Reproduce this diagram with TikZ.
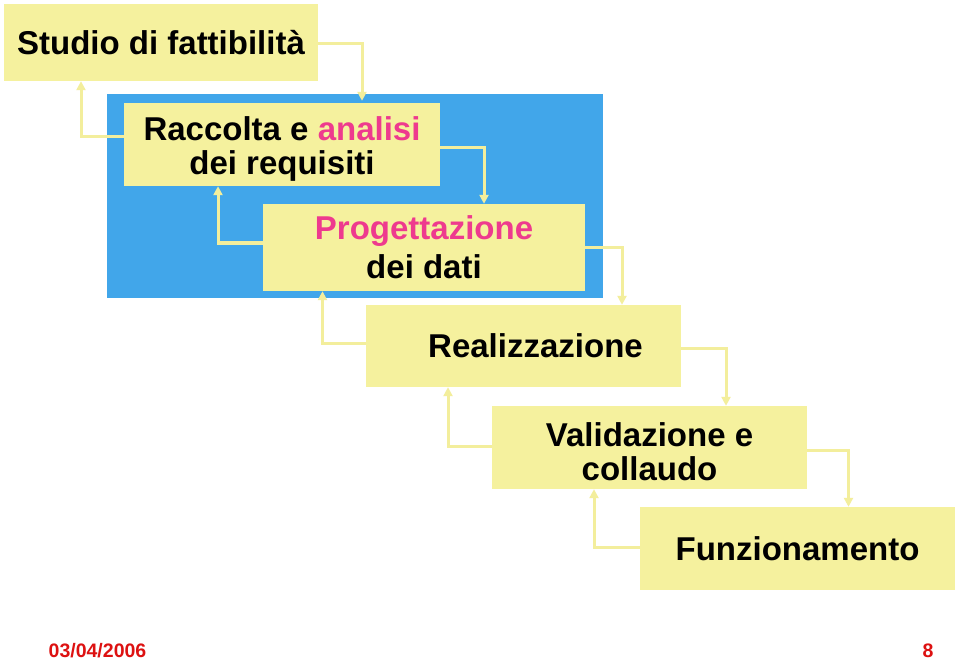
\documentclass[tikz,border=0pt]{standalone}
\usepackage{fontspec}
\setmainfont{Liberation Sans}
\usetikzlibrary{arrows.meta}
\definecolor{boxyellow}{HTML}{F5F19E}
\definecolor{connyellow}{HTML}{F3EE9C}
\definecolor{phaseblue}{HTML}{41A6EA}
\definecolor{hotpink}{HTML}{EE3A8E}
\definecolor{footred}{HTML}{DD1111}
\tikzset{
  phasebox/.style={fill=boxyellow, draw=none, inner sep=0pt, align=center,
    font=\fontsize{33}{34}\selectfont\bfseries},
  bluebg/.style={fill=phaseblue, draw=none, inner sep=0pt},
  conn/.style={draw=connyellow, line width=3pt,
    -{Triangle[width=9pt,length=9pt]}},
  foot/.style={text=footred, font=\fontsize{19.5}{20}\selectfont\bfseries, inner sep=0pt}
}
\begin{document}
\begin{tikzpicture}[x=1pt,y=-1pt]
\useasboundingbox (0,0) rectangle (960,660);
\fill[white] (0,0) rectangle (960,660);
% blue background
\node[bluebg, minimum width=496pt, minimum height=204pt] (fase) at (355,196) {};
% boxes
\node[phasebox, minimum width=314pt, minimum height=77pt] (studio) at (161,42.5) {Studio di fattibilità};
\node[phasebox, minimum width=316pt, minimum height=83pt] (raccolta) at (282,144.5)
  {\rule{0pt}{32pt}Raccolta e \textcolor{hotpink}{analisi}\\dei requisiti};
\node[phasebox, minimum width=322pt, minimum height=87pt,
  font=\fontsize{33}{39}\selectfont\bfseries] (progett) at (424,247.5)
  {\textcolor{hotpink}{Progettazione}\\dei dati};
\node[phasebox, minimum width=315pt, minimum height=82pt] (realizz) at (523.5,346)
  {\hspace*{24pt}Realizzazione};
\node[phasebox, minimum width=315pt, minimum height=83pt] (valid) at (649.5,447.5)
  {\rule{0pt}{32pt}Validazione e\\collaudo};
\node[phasebox, minimum width=315pt, minimum height=83pt] (funz) at (797.5,548.5)
  {Funzionamento};
% connectors
\draw[conn] ([yshift=-1.5pt]studio.east) -| ([xshift=80pt,yshift=2pt]raccolta.north);
\draw[conn] ([yshift=7.5pt]raccolta.west) -| ([xshift=-80pt]studio.south);
\draw[conn] ([yshift=-3.5pt]raccolta.east) -| ([xshift=60pt]progett.north);
\draw[conn] ([yshift=4.5pt]progett.west) -| ([xshift=-64pt]raccolta.south);
\draw[conn] (progett.east) -| ([xshift=98.5pt]realizz.north);
\draw[conn] ([yshift=3pt]realizz.west) -| ([xshift=-101.5pt]progett.south);
\draw[conn] ([yshift=-2pt]realizz.east) -| ([xshift=76.5pt]valid.north);
\draw[conn] ([yshift=1.5pt]valid.west) -| ([xshift=-75.5pt]realizz.south);
\draw[conn] ([yshift=-2.5pt]valid.east) -| ([xshift=51pt]funz.north);
\draw[conn] ([yshift=1.5pt]funz.west) -| ([xshift=-55.5pt]valid.south);
% footer
\node[foot, anchor=base] (data) at (97.5,657) {03/04/2006};
\node[foot, anchor=base] (pagina) at (928,657) {8};
\end{tikzpicture}
\end{document}
